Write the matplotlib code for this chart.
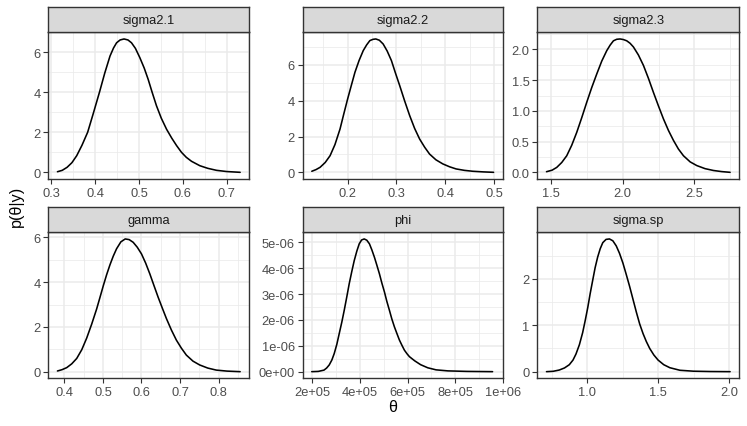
import matplotlib
matplotlib.use("Agg")
import matplotlib.pyplot as plt

plt.rcParams['font.family'] = ['Liberation Sans', 'DejaVu Sans']

# ---- data ----
panel_names = ["sigma2.1", "sigma2.2", "sigma2.3", "gamma", "phi", "sigma.sp"]

s21_x = [0.314, 0.325, 0.336, 0.347, 0.358, 0.370, 0.383, 0.396, 0.410, 0.422,
         0.434, 0.442, 0.449, 0.457, 0.466, 0.475, 0.483, 0.492, 0.502, 0.512,
         0.521, 0.530, 0.540, 0.551, 0.563, 0.575, 0.586, 0.597, 0.608, 0.620,
         0.639, 0.657, 0.677, 0.700, 0.731]
s21_y = [0.03, 0.10, 0.25, 0.48, 0.83, 1.35, 2.0, 2.95, 4.0, 4.95,
         5.8, 6.2, 6.46, 6.6, 6.65, 6.6, 6.46, 6.18, 5.72, 5.2,
         4.64, 4.0, 3.32, 2.7, 2.15, 1.7, 1.33, 1.0, 0.75, 0.55,
         0.33, 0.2, 0.1, 0.04, 0.0]

s22_x = [0.1265, 0.135, 0.1435, 0.154, 0.164, 0.174, 0.1844, 0.192, 0.200, 0.2075,
         0.215, 0.2235, 0.232, 0.239, 0.2456, 0.252, 0.2578, 0.265, 0.2728, 0.281,
         0.2898, 0.298, 0.3068, 0.317, 0.3272, 0.3374, 0.3476, 0.358, 0.368, 0.381,
         0.3952, 0.409, 0.4224, 0.4394, 0.4565, 0.478, 0.4993]
s22_y = [0.06, 0.15, 0.28, 0.55, 0.93, 1.55, 2.42, 3.25, 4.1, 4.85,
         5.59, 6.25, 6.8, 7.12, 7.36, 7.43, 7.45, 7.38, 7.17, 6.78,
         6.24, 5.55, 4.84, 3.98, 3.17, 2.45, 1.86, 1.40, 1.02, 0.70,
         0.47, 0.31, 0.19, 0.11, 0.06, 0.025, 0.0]

s23_x = [1.468, 1.507, 1.5395, 1.5744, 1.6093, 1.644, 1.679, 1.714, 1.7488, 1.7837,
         1.8186, 1.8535, 1.8884, 1.912, 1.9349, 1.958, 1.9814, 2.005, 2.0279, 2.051,
         2.0744, 2.109, 2.1442, 2.179, 2.214, 2.249, 2.2837, 2.319, 2.3535, 2.388,
         2.4233, 2.47, 2.5163, 2.574, 2.6326, 2.69, 2.7488]
s23_y = [0.01, 0.035, 0.08, 0.16, 0.27, 0.44, 0.65, 0.89, 1.14, 1.38,
         1.60, 1.81, 1.98, 2.07, 2.14, 2.165, 2.17, 2.16, 2.14, 2.10,
         2.04, 1.91, 1.74, 1.53, 1.30, 1.08, 0.87, 0.68, 0.52, 0.38,
         0.27, 0.17, 0.11, 0.06, 0.03, 0.012, 0.0]

gam_x = [0.3819, 0.394, 0.406, 0.419, 0.4319, 0.445, 0.4578, 0.4707, 0.4836, 0.4923,
         0.5009, 0.5095, 0.5181, 0.5267, 0.5353, 0.5465, 0.5578, 0.568, 0.5784, 0.589,
         0.600, 0.6108, 0.6216, 0.6323, 0.6431, 0.654, 0.6647, 0.6776, 0.6905, 0.7035,
         0.7164, 0.7336, 0.7509, 0.772, 0.794, 0.822, 0.856]
gam_y = [0.03, 0.09, 0.18, 0.35, 0.59, 0.98, 1.5, 2.12, 2.8, 3.32,
         3.84, 4.33, 4.77, 5.16, 5.49, 5.8, 5.93, 5.9, 5.78, 5.56,
         5.26, 4.85, 4.37, 3.85, 3.33, 2.84, 2.37, 1.86, 1.41, 1.05,
         0.74, 0.47, 0.30, 0.16, 0.07, 0.025, 0.0]

phi_x = [1.975e5, 2.25e5, 2.49e5, 2.60e5, 2.71e5, 2.82e5, 2.92e5, 3.03e5, 3.13e5, 3.24e5,
         3.34e5, 3.45e5, 3.55e5, 3.66e5, 3.76e5, 3.87e5, 3.97e5, 4.07e5, 4.18e5, 4.29e5,
         4.40e5, 4.50e5, 4.61e5, 4.71e5, 4.82e5, 4.92e5, 5.03e5, 5.13e5, 5.24e5, 5.34e5,
         5.45e5, 5.56e5, 5.66e5, 5.77e5, 5.87e5, 5.98e5, 6.08e5, 6.30e5, 6.55e5, 6.85e5,
         7.20e5, 7.70e5, 8.50e5, 9.575e5]
phi_y = [0.0, 0.01e-6, 0.06e-6, 0.14e-6, 0.26e-6, 0.45e-6, 0.70e-6, 1.06e-6, 1.47e-6, 1.92e-6,
         2.37e-6, 2.90e-6, 3.40e-6, 3.88e-6, 4.29e-6, 4.66e-6, 4.94e-6, 5.09e-6, 5.13e-6, 5.08e-6,
         4.94e-6, 4.71e-6, 4.42e-6, 4.12e-6, 3.78e-6, 3.43e-6, 3.08e-6, 2.72e-6, 2.37e-6, 2.04e-6,
         1.73e-6, 1.46e-6, 1.22e-6, 1.01e-6, 0.83e-6, 0.69e-6, 0.58e-6, 0.42e-6, 0.27e-6, 0.15e-6,
         0.07e-6, 0.03e-6, 0.01e-6, 0.0]

ssp_x = [0.713, 0.76, 0.803, 0.84, 0.874, 0.90, 0.921, 0.945, 0.968, 0.986,
         1.004, 1.021, 1.039, 1.056, 1.074, 1.092, 1.11, 1.133, 1.157, 1.181,
         1.205, 1.228, 1.252, 1.275, 1.299, 1.323, 1.347, 1.37, 1.394, 1.417,
         1.441, 1.47, 1.5, 1.54, 1.583, 1.654, 1.75, 1.87, 2.008]
ssp_y = [0.0, 0.008, 0.035, 0.08, 0.15, 0.25, 0.38, 0.58, 0.84, 1.1,
         1.38, 1.68, 1.97, 2.24, 2.47, 2.65, 2.78, 2.85, 2.86, 2.82,
         2.71, 2.55, 2.34, 2.1, 1.84, 1.56, 1.28, 1.03, 0.82, 0.65,
         0.5, 0.36, 0.25, 0.15, 0.085, 0.03, 0.01, 0.003, 0.0]

xs = [s21_x, s22_x, s23_x, gam_x, phi_x, ssp_x]
ys = [s21_y, s22_y, s23_y, gam_y, phi_y, ssp_y]

x_ticks = [
    [0.3, 0.4, 0.5, 0.6, 0.7],
    [0.2, 0.3, 0.4, 0.5],
    [1.5, 2.0, 2.5],
    [0.4, 0.5, 0.6, 0.7, 0.8],
    [2e5, 4e5, 6e5, 8e5, 1e6],
    [1.0, 1.5, 2.0],
]
x_labels = [
    ["0.3", "0.4", "0.5", "0.6", "0.7"],
    ["0.2", "0.3", "0.4", "0.5"],
    ["1.5", "2.0", "2.5"],
    ["0.4", "0.5", "0.6", "0.7", "0.8"],
    ["2e+05", "4e+05", "6e+05", "8e+05", "1e+06"],
    ["1.0", "1.5", "2.0"],
]
y_ticks = [
    [0, 2, 4, 6],
    [0, 2, 4, 6],
    [0.0, 0.5, 1.0, 1.5, 2.0],
    [0, 2, 4, 6],
    [0, 1e-6, 2e-6, 3e-6, 4e-6, 5e-6],
    [0, 1, 2],
]
y_labels = [
    ["0", "2", "4", "6"],
    ["0", "2", "4", "6"],
    ["0.0", "0.5", "1.0", "1.5", "2.0"],
    ["0", "2", "4", "6"],
    ["0e+00", "1e-06", "2e-06", "3e-06", "4e-06", "5e-06"],
    ["0", "1", "2"],
]

# ---- layout (pixels) ----
W, H = 747, 427
DPI = 100
col_lr = [(48.3, 249.3), (302.7, 502.7), (537.3, 739.3)]
row_tb = [(8.3, 33.3, 180.0), (208.3, 233.3, 379.3)]  # strip top, plot top, plot bottom

fig = plt.figure(figsize=(W / DPI, H / DPI), dpi=DPI)
fig.patch.set_facecolor("white")

GREY20 = "#333333"
GREY30 = "#4D4D4D"
GRID = "#EBEBEB"
STRIP = "#D9D9D9"


def px_rect(l, t, r, b):
    return [l / W, 1 - b / H, (r - l) / W, (b - t) / H]


def expand(vals):
    lo, hi = min(vals), max(vals)
    d = (hi - lo) * 0.05
    return lo - d, hi + d


def minor_breaks(major, lim):
    step = major[1] - major[0]
    ext = [major[0] - step] + list(major) + [major[-1] + step]
    mids = [(a + b) / 2 for a, b in zip(ext[:-1], ext[1:])]
    return [m for m in mids if lim[0] <= m <= lim[1]]


for i, name in enumerate(panel_names):
    r, c = divmod(i, 3)
    l, rr = col_lr[c]
    st, pt, pb = row_tb[r]
    ax = fig.add_axes(px_rect(l, pt, rr, pb))
    sax = fig.add_axes(px_rect(l, st, rr, pt))

    xlim = expand(xs[i])
    ylim = expand([0.0] + ys[i])
    ax.set_xlim(*xlim)
    ax.set_ylim(*ylim)

    for m in minor_breaks(x_ticks[i], xlim):
        ax.axvline(m, color=GRID, lw=0.55, zorder=0)
    for m in minor_breaks(y_ticks[i], ylim):
        ax.axhline(m, color=GRID, lw=0.55, zorder=0)
    for m in x_ticks[i]:
        if xlim[0] <= m <= xlim[1]:
            ax.axvline(m, color=GRID, lw=1.1, zorder=0)
    for m in y_ticks[i]:
        ax.axhline(m, color=GRID, lw=1.1, zorder=0)

    ax.plot(xs[i], ys[i], color="black", lw=1.15, zorder=3,
            solid_joinstyle="round", solid_capstyle="round")

    ax.set_xticks(x_ticks[i])
    ax.set_xticklabels(x_labels[i])
    ax.set_yticks(y_ticks[i])
    ax.set_yticklabels(y_labels[i])
    ax.tick_params(axis="both", direction="out", length=3.6, width=0.8,
                   color=GREY20, labelcolor=GREY30, labelsize=9.3, pad=2)
    for sp in ax.spines.values():
        sp.set_color(GREY20)
        sp.set_linewidth(1.0)
    ax.set_facecolor("white")

    sax.set_facecolor(STRIP)
    sax.set_xticks([])
    sax.set_yticks([])
    for sp in sax.spines.values():
        sp.set_color(GREY20)
        sp.set_linewidth(1.0)
    sax.text(0.5, 0.48, name, ha="center", va="center", fontsize=9.3,
             color="#1A1A1A", transform=sax.transAxes)

fig.text(16 / W, 1 - 206 / H, "p(θ|y)", rotation=90, ha="center", va="center",
         fontsize=11.6, color="black")
fig.text(393 / W, 1 - 408 / H, "θ", ha="center", va="center",
         fontsize=11.6, color="black")

fig.savefig("out.png", dpi=DPI, facecolor="white")
